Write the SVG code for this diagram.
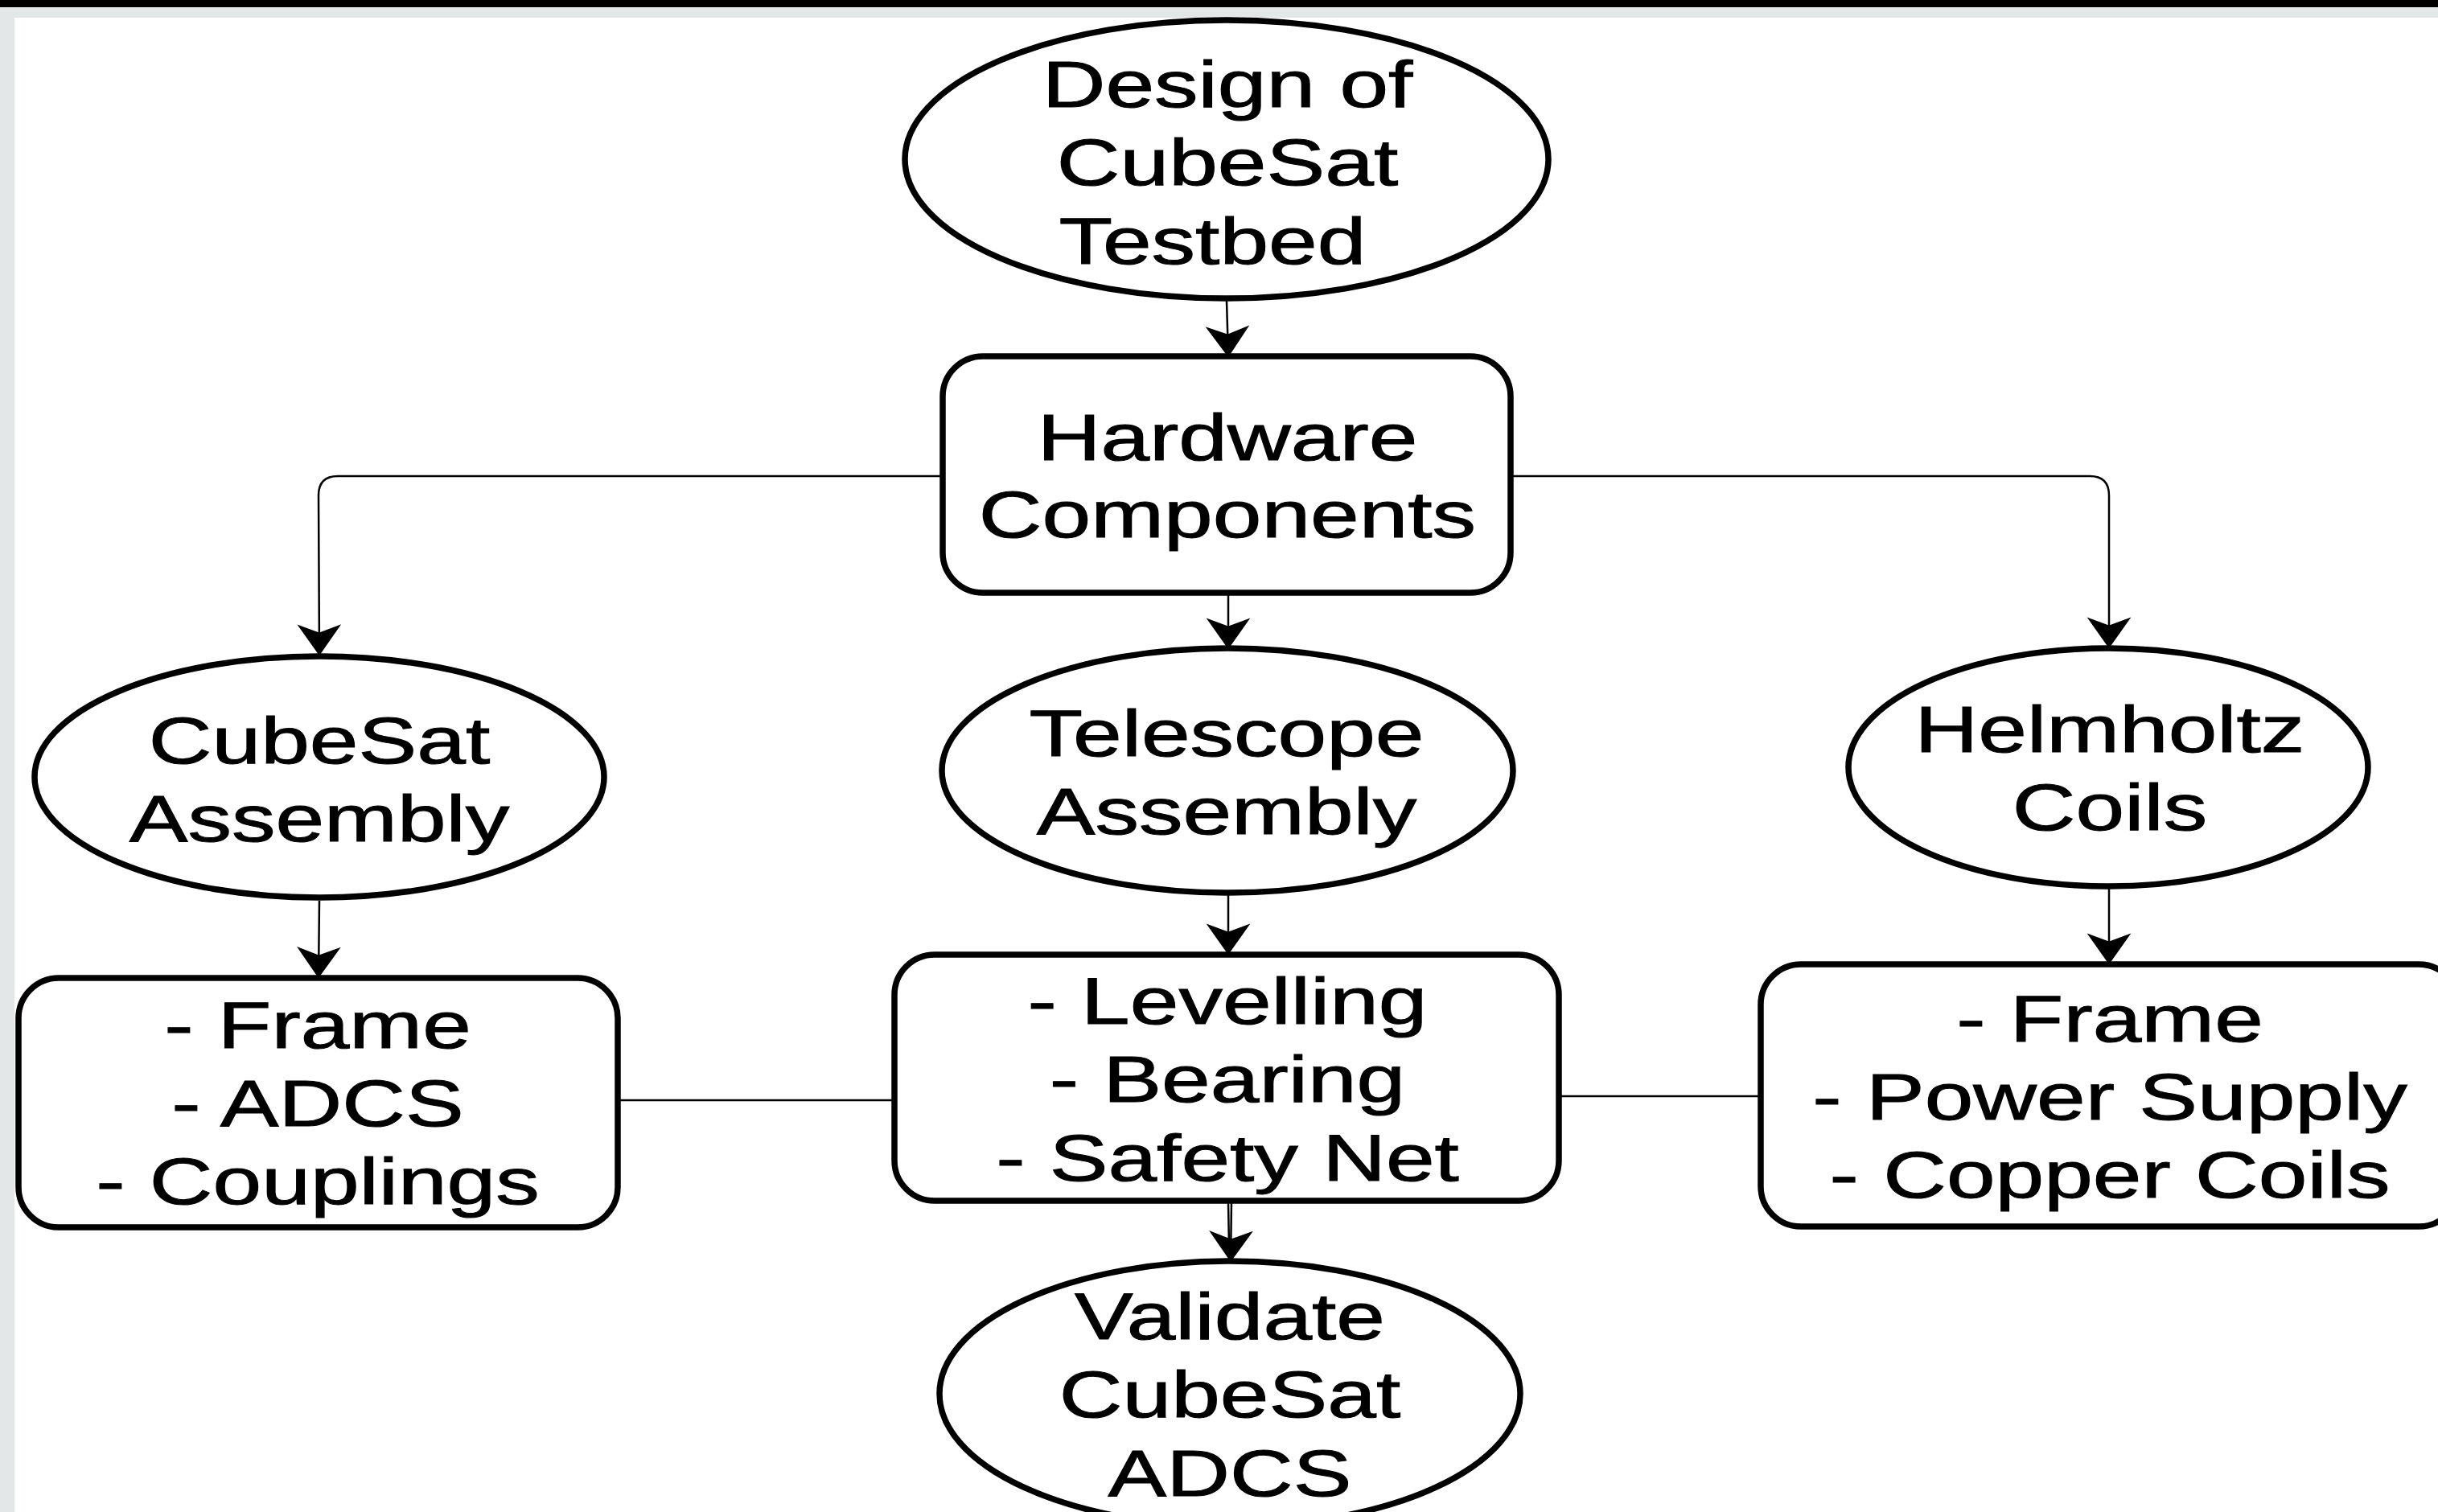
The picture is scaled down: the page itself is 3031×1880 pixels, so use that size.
<svg xmlns="http://www.w3.org/2000/svg" width="3031" height="1880" viewBox="0 0 3031 1880">
<style>
.node{fill:#fff;stroke:#000;stroke-width:7.5}
.lbl{font-family:"Liberation Sans",Arial,sans-serif;font-size:82px;fill:#000;stroke:#000;stroke-width:1;text-anchor:middle}
.conn{fill:none;stroke:#000;stroke-width:2.5}
.arr{marker-end:url(#ah)}
</style>
<defs>
<marker id="ah" markerUnits="userSpaceOnUse" viewBox="-38 -28 42 56" markerWidth="42" markerHeight="56" refX="0" refY="0" orient="auto">
<path d="M0,0 L-34,-24 L-25,0 L-34,24 Z" fill="#000" stroke="#000" stroke-width="2.5" stroke-linejoin="miter"/>
</marker>
</defs>
<rect x="0" y="0" width="3031" height="1880" fill="#fff"/>
<rect x="0" y="9" width="3031" height="13" fill="#e3e7e7"/>
<rect x="0" y="9" width="18" height="1871" fill="#e3e7e7"/>
<rect x="0" y="0" width="3031" height="9" fill="#000"/>

<g id="connectors">
<path class="conn arr" d="M1525,374 L1527,442"/>
<path class="conn arr" d="M1172,592 L420,592 Q396,592 396,616 L397,813"/>
<path class="conn arr" d="M1878,592 L2598,592 Q2622,592 2622,616 L2622,804"/>
<path class="conn arr" d="M1527,740 L1527,805"/>
<path class="conn arr" d="M397,1120 L396,1214"/>
<path class="conn arr" d="M1527,1113 L1527,1185"/>
<path class="conn arr" d="M2622,1105 L2622,1197"/>
<path class="conn" d="M1527,1495 L1528,1550"/>
<path class="conn arr" d="M1531,1495 L1530,1567"/>
<path class="conn" d="M769,1368 L1112,1368"/>
<path class="conn" d="M1938,1363 L2189,1363"/>
</g>

<g id="node-design">
<ellipse class="node" cx="1525" cy="198" rx="400" ry="173"/>
<text class="lbl" transform="matrix(1.33,0,0,1,1526,0)"><tspan x="0" y="133">Design of</tspan><tspan x="0" y="230">CubeSat</tspan><tspan x="-14" y="328">Testbed</tspan></text>
</g>

<g id="node-hardware">
<rect class="node" x="1172" y="443" width="706" height="294" rx="50" ry="50"/>
<text class="lbl" transform="matrix(1.33,0,0,1,1526,0)"><tspan x="0" y="572">Hardware</tspan><tspan x="0" y="668">Components</tspan></text>
</g>

<g id="node-cubesat-assembly">
<ellipse class="node" cx="397" cy="966" rx="354" ry="150"/>
<text class="lbl" transform="matrix(1.33,0,0,1,397,0)"><tspan x="0" y="949">CubeSat</tspan><tspan x="0" y="1046">Assembly</tspan></text>
</g>

<g id="node-telescope-assembly">
<ellipse class="node" cx="1526" cy="958" rx="355" ry="152"/>
<text class="lbl" transform="matrix(1.33,0,0,1,1525,0)"><tspan x="0" y="940">Telescope</tspan><tspan x="0" y="1037">Assembly</tspan></text>
</g>

<g id="node-helmholtz">
<ellipse class="node" cx="2621" cy="954" rx="323" ry="148"/>
<text class="lbl" transform="matrix(1.33,0,0,1,2623,0)"><tspan x="0" y="935">Helmholtz</tspan><tspan x="0" y="1032">Coils</tspan></text>
</g>

<g id="node-cubesat-parts">
<rect class="node" x="23" y="1216" width="745" height="310" rx="50" ry="50"/>
<text class="lbl" transform="matrix(1.33,0,0,1,395,0)"><tspan x="0" y="1303">- Frame</tspan><tspan x="0" y="1400">- ADCS</tspan><tspan x="0" y="1497">- Couplings</tspan></text>
</g>

<g id="node-telescope-parts">
<rect class="node" x="1112" y="1187" width="826" height="306" rx="50" ry="50"/>
<text class="lbl" transform="matrix(1.33,0,0,1,1526,0)"><tspan x="0" y="1273">- Levelling</tspan><tspan x="0" y="1370">- Bearing</tspan><tspan x="0" y="1468">- Safety Net</tspan></text>
</g>

<g id="node-helmholtz-parts">
<rect class="node" x="2189" y="1199" width="868" height="326" rx="50" ry="50"/>
<text class="lbl" transform="matrix(1.33,0,0,1,2623,0)"><tspan x="0" y="1295">- Frame</tspan><tspan x="0" y="1392">- Power Supply</tspan><tspan x="0" y="1489">- Copper Coils</tspan></text>
</g>

<g id="node-validate">
<ellipse class="node" cx="1529" cy="1733" rx="361" ry="165"/>
<text class="lbl" transform="matrix(1.33,0,0,1,1529,0)"><tspan x="0" y="1665">Validate</tspan><tspan x="0" y="1762">CubeSat</tspan><tspan x="0" y="1860">ADCS</tspan></text>
</g>
</svg>
